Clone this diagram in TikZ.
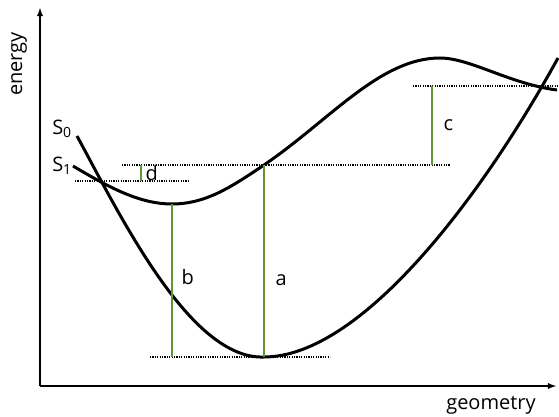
\documentclass[tikz,border=0pt]{standalone}
\usepackage{fontspec}
\setmainfont{Open Sans}
\usetikzlibrary{arrows,positioning,calc}
\definecolor{lvlgreen}{RGB}{96,150,52}
\tikzset{
  curve/.style={line width=3pt,line join=round},
  level/.style={line width=1.4pt,dash pattern=on 1.2pt off 1.2pt},
  gap/.style={lvlgreen,line width=1.4pt},
  lbl/.style={font=\fontsize{20}{22}\selectfont,inner sep=1pt}
}
\begin{document}
\begin{tikzpicture}[x=1pt,y=-1pt]
\useasboundingbox (0,0) rectangle (559,417);
% axes
\coordinate (O) at (40,386);
\coordinate (Ytop) at (40,8);
\coordinate (Xend) at (556,386);
\draw[line width=1.8pt,arrows=-latex] (O) -- (Ytop);
\draw[line width=1.8pt,arrows=-latex] (O) -- (Xend);
\node[lbl,rotate=90] (en) at (19,64) {energy};
\node[lbl] (geo) at (491,405) {geometry};
% levels
\coordinate (top) at (432,86);
\coordinate (vert) at (264,165);
\coordinate (cross) at (100,181);
\coordinate (min1) at (172,204);
\coordinate (min0) at (264,357);
\draw[level] (413,86) -- (559,86);
\draw[level] (122,165) -- (450,165);
\draw[level] (75,181) -- (188,181);
\draw[level] (150,357) -- (330,357);
% surfaces
\draw[curve] (77,136) .. controls (120,215) and (190,360) .. (min0)
  .. controls (360,357) and (480,200) .. (558,58);
\draw[curve] (73,166) .. controls (110,188) and (140,204) .. (min1)
  .. controls (205,204) and (230,188) .. (vert)
  .. controls (330,120) and (380,58) .. (440,58)
  .. controls (470,58) and (510,84) .. (557,90);
\node[lbl] (s0) at (62,129) {S\textsubscript{0}};
\node[lbl] (s1) at (62,166) {S\textsubscript{1}};
% gaps
\draw[gap] (top) -- (top |- vert) node[lbl,midway,right=10pt,black] (c) {c};
\draw[gap] (141,165) -- (141,181) node[lbl,midway,right=3pt,black] (d) {d};
\draw[gap] (min1) -- (min1 |- min0) node[lbl,pos=0.48,right=8pt,black] (b) {b};
\draw[gap] (vert) -- (min0) node[lbl,pos=0.6,right=10pt,black] (a) {a};
\end{tikzpicture}
\end{document}
